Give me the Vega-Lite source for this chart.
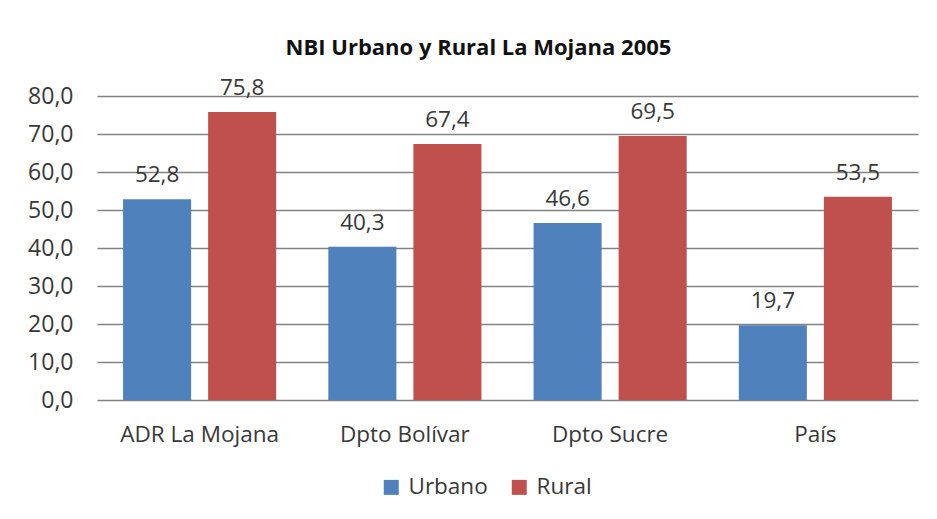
{
  "$schema": "https://vega.github.io/schema/vega-lite/v6.json",
  "width": 821,
  "height": 304,
  "autosize": {"type": "none"},
  "padding": {"left": 97, "top": 96, "right": 19, "bottom": 119},
  "background": "white",
  "title": {
    "text": "NBI Urbano y Rural La Mojana 2005",
    "font": "Open Sans",
    "fontSize": 22,
    "fontWeight": "bold",
    "color": "#111111",
    "anchor": "middle",
    "dx": -29,
    "offset": 17
  },
  "data": {
    "values": [
      {"area": "ADR La Mojana", "zona": "Urbano", "valor": 52.8},
      {"area": "ADR La Mojana", "zona": "Rural", "valor": 75.8},
      {"area": "Dpto Bolívar", "zona": "Urbano", "valor": 40.3},
      {"area": "Dpto Bolívar", "zona": "Rural", "valor": 67.4},
      {"area": "Dpto Sucre", "zona": "Urbano", "valor": 46.6},
      {"area": "Dpto Sucre", "zona": "Rural", "valor": 69.5},
      {"area": "País", "zona": "Urbano", "valor": 19.7},
      {"area": "País", "zona": "Rural", "valor": 53.5}
    ]
  },
  "encoding": {
    "x": {
      "field": "area",
      "type": "nominal",
      "sort": null,
      "title": null,
      "scale": {"paddingInner": 0.254, "paddingOuter": 0.127},
      "axis": {
        "labelAngle": 0,
        "domain": false,
        "ticks": false,
        "tickSize": 0,
        "labelPadding": 23,
        "labelFont": "Open Sans",
        "labelFontSize": 22.5,
        "labelColor": "#383838",
        "grid": false
      }
    },
    "xOffset": {
      "field": "zona",
      "type": "nominal",
      "sort": ["Urbano", "Rural"],
      "scale": {"paddingInner": 0.2, "paddingOuter": 0}
    },
    "y": {
      "field": "valor",
      "type": "quantitative",
      "title": null,
      "scale": {"domain": [0, 80], "nice": false},
      "axis": {
        "values": [0, 10, 20, 30, 40, 50, 60, 70, 80],
        "format": ".1f",
        "domain": false,
        "ticks": false,
        "tickSize": 0,
        "labelPadding": 24,
        "labelFont": "Open Sans",
        "labelFontSize": 23,
        "labelColor": "#383838",
        "grid": true,
        "gridColor": "#828282",
        "gridWidth": 1.5
      }
    }
  },
  "layer": [
    {
      "mark": {"type": "bar"},
      "encoding": {
        "color": {
          "field": "zona",
          "type": "nominal",
          "sort": ["Urbano", "Rural"],
          "scale": {"domain": ["Urbano", "Rural"], "range": ["#4F81BD", "#C0504D"]},
          "legend": {
            "title": null,
            "orient": "none",
            "legendX": 283,
            "legendY": 380,
            "direction": "horizontal",
            "symbolType": "square",
            "symbolSize": 225,
            "symbolStrokeWidth": 0,
            "labelFont": "Open Sans",
            "labelFontSize": 22.5,
            "labelColor": "#383838",
            "labelOffset": 6,
            "columnPadding": 20
          }
        }
      }
    },
    {
      "mark": {
        "type": "text",
        "baseline": "alphabetic",
        "dy": -17,
        "font": "Open Sans",
        "fontSize": 22.5,
        "color": "#383838"
      },
      "encoding": {
        "text": {"field": "valor", "type": "quantitative", "format": ".1f"}
      }
    }
  ],
  "config": {
    "locale": {
      "number": {"decimal": ",", "thousands": ".", "grouping": [3], "currency": ["$", ""]}
    },
    "view": {"stroke": null}
  }
}
